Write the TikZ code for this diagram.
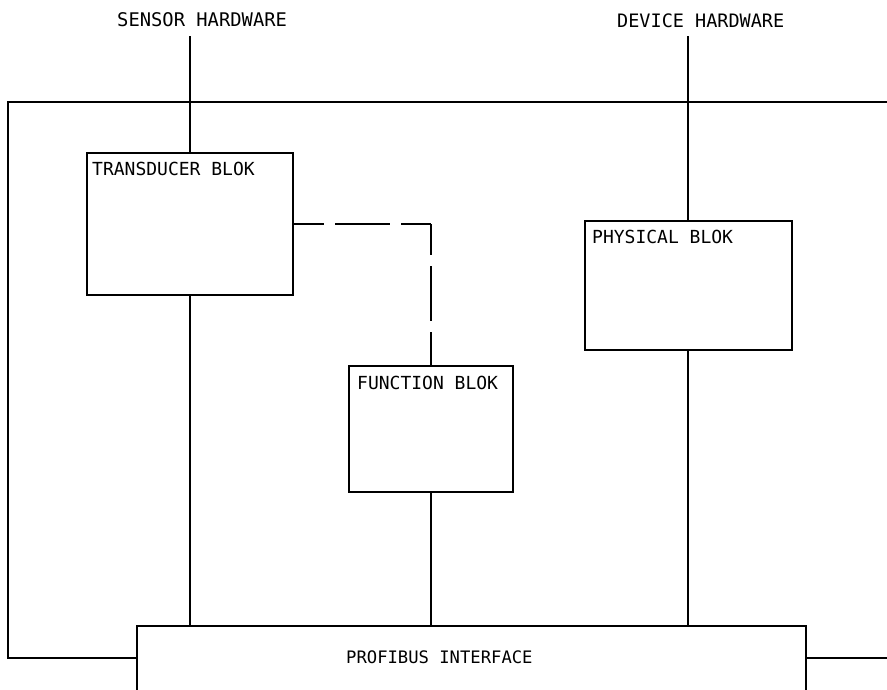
\documentclass[tikz,border=0pt]{standalone}
\usepackage{fontspec}
\setmonofont{DejaVu Sans Mono}
\begin{document}
\begin{tikzpicture}[x=1pt,y=-1pt,
  blk/.style={draw, line width=1.6pt, rectangle, anchor=north west, inner sep=0pt, outer sep=0pt},
  lbl/.style={font=\ttfamily\fontsize{18}{18}\selectfont, inner sep=0pt, anchor=base west},
  ln/.style={line width=1.6pt},
  dashln/.style={line width=1.8pt, dash pattern=on 55pt off 11pt, dash phase=24pt}]
\clip (0,0) rectangle (887,689);
\fill[white] (0,0) rectangle (887,689);

% blocks
\node[blk, minimum width=206pt, minimum height=142pt] (trans) at (87,153) {};
\node[blk, minimum width=207pt, minimum height=129pt] (phys) at (585,221) {};
\node[blk, minimum width=164pt, minimum height=126pt] (func) at (349,366) {};
\node[blk, minimum width=669pt, minimum height=80pt] (prof) at (137,626) {};

% labels
\node[lbl, font=\ttfamily\fontsize{18.8}{18.8}\selectfont] (sensT) at (117,26) {SENSOR HARDWARE};
\node[lbl, font=\ttfamily\fontsize{18.5}{18.5}\selectfont] (devT) at (617,27) {DEVICE HARDWARE};
\node[lbl] (transT) at (92,175) {TRANSDUCER BLOK};
\node[lbl] (physT) at (592,243) {PHYSICAL BLOK};
\node[lbl] (funcT) at (357,389) {FUNCTION BLOK};
\node[lbl, font=\ttfamily\fontsize{17.2}{17.2}\selectfont] (profT) at (346,663) {PROFIBUS INTERFACE};

% free ends
\coordinate (sensEnd) at (190,36);
\coordinate (devEnd) at (688,36);
\coordinate (frTL) at (8,102);
\coordinate (frTR) at (887,102);
\coordinate (frBL) at (8,658);
\coordinate (frBR) at (887,658);

% frame
\draw[ln] (frTR) -- (frTL) -- (frBL) -- (frBL -| prof.west);
\draw[ln] (frBR -| prof.east) -- (frBR);

% hardware connections
\draw[ln] (sensEnd) -- (sensEnd |- trans.north);
\draw[ln] (devEnd) -- (devEnd |- phys.north);

% to profibus
\draw[ln] (sensEnd |- trans.south) -- (sensEnd |- prof.north);
\draw[ln] (devEnd |- phys.south) -- (devEnd |- prof.north);
\draw[ln] (func.south) -- (func.south |- prof.north);

% dashed link
\coordinate (corner) at (func.north |- trans.east);
\draw[dashln] (trans.east) -- (corner);
\draw[dashln] (corner) -- (func.north);
\end{tikzpicture}
\end{document}
